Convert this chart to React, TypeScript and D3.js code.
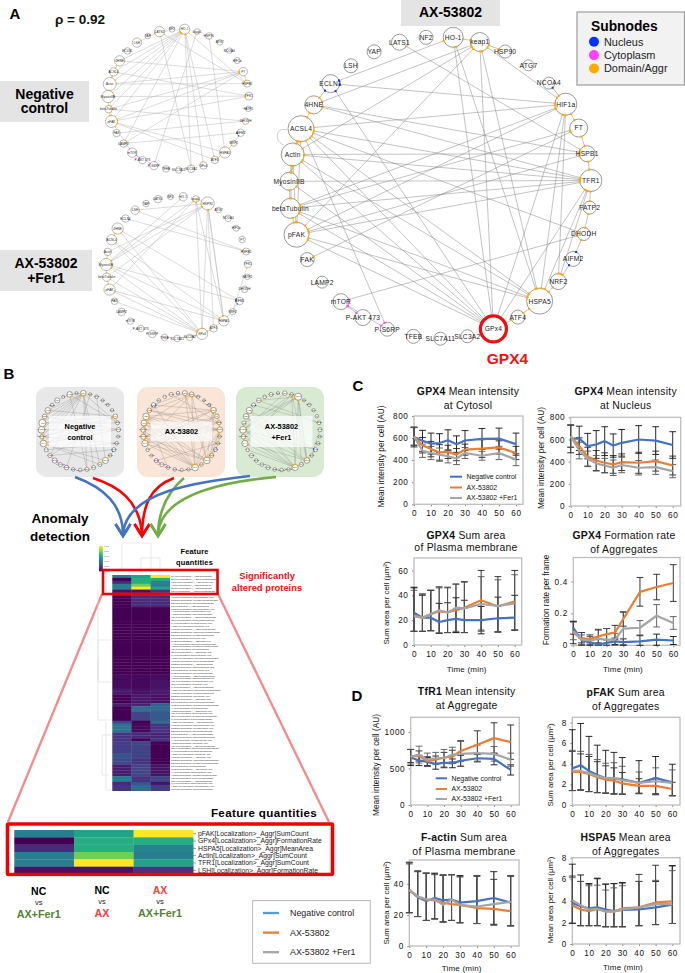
import * as d3 from "d3";
import React, { useEffect, useRef } from "react";

const FONT = '"Liberation Sans", Arial, sans-serif';
const W = 685;
const H = 973;

const BLUE = "#4472c4";
const ORANGE = "#ed7d31";
const GRAY = "#a5a5a5";
const SUB_BLUE = "#0433ff";
const SUB_PINK = "#ff40ff";
const SUB_ORANGE = "#ffaa00";

// ---- network rings, clockwise from the top
const ringNames = [
  "HO-1", "keap1", "HSP90", "ATG7", "NCOA4", "HIF1a", "FT", "HSPB1", "TFR1", "FATP2", "DHODH", "AIFM2",
  "NRF2", "HSPA5", "ATF4", "GPx4", "SLC3A2", "SLC7A11", "TFEB", "P-S6RP", "P-AKT 473", "mTOR", "LAMP2",
  "FAK", "pFAK", "betaTubulin", "MyosinIIB", "Actin", "ACSL4", "4HNE", "ECLN1", "LSH", "YAP", "LATS1", "NF2",
];
const axSizes = [10, 9.5, 6.5, 5.5, 6, 11, 9, 8, 11, 6.5, 6.5, 7.5, 8, 13, 7, 13, 6.5, 6.5, 7, 7, 8, 8, 6, 7, 12.5, 10, 9, 11.5, 13, 9, 9, 7, 7, 8, 7];
const ncSizes = [11, 6, 7, 6, 6, 6.5, 9, 7.5, 8.5, 6, 7, 8, 6.5, 12, 8, 8, 8, 7, 7, 9, 8, 10, 8, 8, 13, 8, 13, 14, 9, 11, 7, 10, 6, 11, 6];
const ferSizes = [9, 7, 14, 6, 7, 6.5, 7, 7.5, 8, 6, 7, 8, 6.5, 11, 8, 12, 7, 7, 7, 8, 7, 7, 8, 7, 12, 9, 13, 8, 11, 12, 8, 9, 7, 8, 6];

const axEdges: [string, string][] = [
  ["GPx4", "ACSL4"], ["GPx4", "Actin"], ["GPx4", "MyosinIIB"], ["GPx4", "betaTubulin"], ["GPx4", "pFAK"],
  ["GPx4", "ECLN1"], ["GPx4", "HO-1"], ["GPx4", "keap1"], ["GPx4", "HIF1a"], ["GPx4", "TFR1"], ["GPx4", "ATF4"],
  ["HSPA5", "ACSL4"], ["HSPA5", "Actin"], ["HSPA5", "betaTubulin"], ["HSPA5", "pFAK"], ["HSPA5", "HO-1"],
  ["HSPA5", "keap1"], ["HSPA5", "HIF1a"], ["HSPA5", "TFR1"], ["HSPA5", "ATF4"], ["HSPA5", "NRF2"],
  ["NRF2", "HIF1a"], ["NRF2", "TFR1"], ["NRF2", "AIFM2"], ["AIFM2", "DHODH"], ["DHODH", "FATP2"],
  ["FATP2", "TFR1"], ["TFR1", "ACSL4"], ["TFR1", "Actin"], ["TFR1", "betaTubulin"], ["TFR1", "pFAK"],
  ["TFR1", "4HNE"], ["TFR1", "MyosinIIB"], ["TFR1", "HSPB1"], ["HIF1a", "ACSL4"], ["HIF1a", "ECLN1"],
  ["HIF1a", "keap1"], ["HIF1a", "pFAK"], ["HIF1a", "betaTubulin"], ["HIF1a", "FT"], ["HIF1a", "NCOA4"],
  ["FT", "betaTubulin"], ["FT", "FAK"], ["FT", "HSPB1"], ["HSPB1", "4HNE"], ["HSPB1", "LATS1"], ["HSPB1", "Actin"],
  ["HSPB1", "pFAK"], ["DHODH", "mTOR"], ["DHODH", "ACSL4"], ["keap1", "4HNE"], ["keap1", "pFAK"], ["keap1", "Actin"],
  ["keap1", "HSP90"], ["HO-1", "ECLN1"], ["HO-1", "keap1"], ["P-S6RP", "ACSL4"], ["ACSL4", "Actin"], ["Actin", "MyosinIIB"],
  ["Actin", "betaTubulin"], ["Actin", "pFAK"], ["MyosinIIB", "betaTubulin"], ["betaTubulin", "pFAK"], ["ACSL4", "4HNE"],
  ["4HNE", "ECLN1"], ["mTOR", "P-AKT 473"], ["mTOR", "P-S6RP"], ["ACSL4", "pFAK"], ["ACSL4", "MyosinIIB"],
];
const ncEdges: [string, string][] = [
  ["HO-1", "Actin"], ["HO-1", "MyosinIIB"], ["HO-1", "betaTubulin"], ["HO-1", "pFAK"], ["HO-1", "ACSL4"], ["HO-1", "4HNE"],
  ["HO-1", "HSPB1"], ["HO-1", "SLC3A2"], ["HO-1", "GPx4"], ["LATS1", "SLC3A2"], ["LATS1", "HSPB1"], ["LATS1", "HO-1"], ["HO-1", "ATF4"],
  ["LSH", "LATS1"], ["pFAK", "HSPA5"], ["pFAK", "ATF4"], ["FT", "Actin"], ["FT", "betaTubulin"], ["FT", "pFAK"], ["FT", "LAMP2"],
  ["Actin", "HSPB1"], ["4HNE", "FT"], ["ACSL4", "TFR1"], ["MyosinIIB", "TFR1"], ["pFAK", "TFR1"], ["betaTubulin", "DHODH"],
  ["FAK", "DHODH"], ["LAMP2", "AIFM2"], ["LAMP2", "HO-1"], ["keap1", "P-S6RP"], ["HSP90", "HSPA5"], ["ACSL4", "4HNE"],
  ["ACSL4", "Actin"], ["Actin", "MyosinIIB"], ["MyosinIIB", "betaTubulin"], ["betaTubulin", "pFAK"], ["mTOR", "P-AKT 473"],
  ["mTOR", "P-S6RP"], ["HSPA5", "ATF4"], ["HSPA5", "NRF2"], ["NRF2", "AIFM2"], ["Actin", "pFAK"], ["FT", "HSPB1"], ["pFAK", "mTOR"],
];
const ferEdges: [string, string][] = [
  ["HSP90", "Actin"], ["HSP90", "MyosinIIB"], ["HSP90", "betaTubulin"], ["HSP90", "GPx4"], ["HSP90", "HSPA5"], ["HSP90", "ATF4"],
  ["keap1", "MyosinIIB"], ["keap1", "GPx4"], ["keap1", "HSPA5"], ["keap1", "pFAK"], ["keap1", "HSP90"], ["ECLN1", "HSPB1"],
  ["LSH", "HSPB1"], ["LSH", "HSP90"], ["HO-1", "MyosinIIB"], ["4HNE", "GPx4"], ["ACSL4", "GPx4"], ["MyosinIIB", "GPx4"],
  ["MyosinIIB", "HSPA5"], ["MyosinIIB", "AIFM2"], ["betaTubulin", "GPx4"], ["pFAK", "GPx4"], ["pFAK", "HSPA5"], ["FAK", "GPx4"],
  ["ACSL4", "HSPA5"], ["4HNE", "AIFM2"], ["TFR1", "NRF2"], ["HSPA5", "AIFM2"], ["HSPA5", "GPx4"], ["ATF4", "GPx4"], ["ACSL4", "4HNE"],
  ["MyosinIIB", "Actin"], ["MyosinIIB", "betaTubulin"], ["betaTubulin", "pFAK"], ["SLC3A2", "GPx4"], ["TFEB", "SLC3A2"], ["HSPA5", "HSP90"],
];
// which subnode colour the edge ends take at a node (orange otherwise)
const nodeSubColor: Record<string, string> = {
  ECLN1: SUB_BLUE, NCOA4: SUB_BLUE, AIFM2: SUB_BLUE, mTOR: SUB_PINK, "P-AKT 473": SUB_PINK, "P-S6RP": SUB_PINK, TFEB: SUB_PINK,
};

// ---- heat map columns (0..1 on viridis), top row first
const heatNcFer = [
  .42, 0, .12, .42, .42, .05, .02, 0, 0, 0, 0, 0, 0, 0, 0, 0, 0, 0, 0, 0, 0, 0, 0, 0, 0, 0, 0, 0, 0, 0, 0, 0, 0, 0, .03, .03,
  .03, .03, .03, .07, .07, 0, 0, 0, .08, 0, 0, 0, 0, 0, .2, .38, .38, .38, .15, .15, .15, .18, .18, .18, .18, .25, .25, .22, .22,
  .08, .08, .08, .08, .4, .4, .12, .15, .15,
];
const heatNcAx = [
  .58, .62, .62, .78, 1, .05, .03, .12, .12, .12, .12, 0, 0, 0, 0, 0, 0, 0, 0, 0, 0, 0, 0, 0, 0, 0, 0, 0, 0, 0, 0, 0, 0, 0, .02, .02,
  .02, .02, .02, .04, .04, .06, .06, .06, .1, .35, .35, .2, .2, .2, 0, .02, .02, .02, .12, .12, 0, .2, .2, .2, .2, .2, .2, .15, .15,
  .2, .2, .2, .2, .15, .15, .25, .35, .35,
];
const heatAxFer = [
  1, .62, .45, .42, .58, .15, .12, .12, .12, .12, .12, 0, 0, 0, 0, 0, 0, 0, 0, 0, 0, 0, 0, 0, 0, 0, 0, 0, 0, 0, 0, 0, 0, 0, .03, .03,
  .05, .05, .05, .07, .07, .04, .04, .04, .3, .33, .33, .28, .28, .28, .35, .15, .15, .15, .1, .1, .15, 0, 0, 0, 0, 0, 0, 0, 0,
  .05, .05, .05, .05, .2, .2, .05, .18, .18,
];
const zoomLabels = [
  "pFAK[Localization>_Aggr]SumCount", "GPx4[Localization>_Aggr]FormationRate", "HSPA5[Localization>_Aggr]MeanArea",
  "Actin[Localization>_Aggr]SumCount", "TFR1[Localization>_Aggr]SumCount", "LSH[Localization>_Aggr]FormationRate",
];
const labelProteins = ["ACSL4", "HIF1a", "mTOR", "NRF2", "FT", "keap1", "YAP", "ATG7", "HO-1", "GPx4", "FAK"];
const labelPlaces = ["_Aggr", "Nucleus", "Cytosol", "PM"];
const labelMetrics = ["MeanArea", "SumArea", "MeanIntensity", "FormationRate", "SumCount"];

// ---- time courses
const timePoints = [0, 5, 10, 15, 20, 25, 30, 40, 50, 60];
const seriesNames = ["Negative control", "AX-53802", "AX-53802 +Fer1"];

const c1Neg = [610, 575, 550, 555, 580, 545, 578, 592, 595, 545];
const c1Ax = [615, 535, 500, 470, 475, 450, 495, 505, 515, 465];
const c1Fer = [615, 485, 465, 450, 435, 415, 465, 440, 465, 405];
const c1NegErr = [90, 95, 95, 85, 95, 75, 90, 95, 95, 100];
const c1AxErr = [80, 70, 70, 70, 60, 55, 50, 80, 60, 60];
const c1FerErr = [80, 60, 60, 60, 60, 55, 50, 40, 60, 55];

const c2Neg = [605, 610, 540, 555, 585, 545, 570, 600, 590, 550];
const c2Ax = [630, 540, 445, 410, 390, 375, 395, 390, 405, 365];
const c2Fer = [630, 500, 425, 385, 365, 345, 370, 345, 350, 315];
const c2NegErr = [125, 110, 115, 125, 130, 105, 120, 125, 125, 120];
const c2AxErr = [100, 75, 85, 90, 90, 80, 75, 95, 90, 85];
const c2FerErr = [100, 75, 70, 70, 65, 70, 70, 65, 65, 60];

const c3Neg = [26, 22, 22, 18.5, 20, 21, 20, 20, 21.5, 22];
const c3Ax = [23.5, 22, 25, 27, 26.5, 28, 30, 36, 31, 35];
const c3Fer = [23, 22, 25, 28, 26, 30, 29.5, 33, 31.5, 33.5];
const c3NegErr = [20, 18, 22, 15, 14, 17, 16, 11, 17, 18];
const c3AxErr = [23, 19, 19, 19, 20, 21, 21, 24, 24, 25];
const c3FerErr = [21, 19, 19, 19, 20, 19, 21, 22, 21, 23];
const c3Floor = [11, 11, 11.5, 9.5, 10, 10, 10, 9, 10.5, 12];

const c4Neg = [.11, .03, .02, .005, .015, .025, .02, .025, .035, .03];
const c4Ax = [.08, .04, .04, .055, .07, .08, .165, .335, .365, .39];
const c4Fer = [.09, .035, .03, .04, .035, .035, .105, .11, .185, .14];
const c4NegErr = [.04, .015, .02, .01, .02, .02, .02, .035, .035, .025];
const c4AxErr = [.07, .04, .025, .045, .035, .045, .045, .09, .08, .115];
const c4FerErr = [.055, .03, .025, .055, .07, .04, .1, .045, .07, .04];

const d1Neg = [650, 610, 590, 560, 580, 570, 605, 640, 630, 480];
const d1Ax = [670, 670, 600, 620, 650, 660, 740, 825, 915, 860];
const d1Fer = [660, 690, 620, 640, 640, 690, 700, 710, 700, 620];
const d1NegErr = [110, 70, 60, 70, 70, 60, 75, 50, 80, 70];
const d1AxErr = [90, 70, 60, 50, 70, 90, 140, 190, 210, 235];
const d1FerErr = [100, 115, 90, 80, 120, 100, 170, 110, 100, 90];

const d2Neg = [3.55, 3.85, 3.3, 2.9, 2.6, 2.55, 2.5, 2.15, 2.6, 2.2];
const d2Ax = [3.2, 3.2, 3, 2.7, 2.45, 2.35, 2.1, 1.85, 1.85, 1.55];
const d2Fer = [3.3, 3.3, 3.1, 2.8, 2.6, 2.6, 2.4, 2.15, 2.3, 2.15];
const d2NegErr = [3.75, 4.05, 3.35, 2.9, 2.7, 2.55, 2.1, 2.15, 2.1, 1.75];
const d2AxErr = [2, 1.75, 1.7, 1.5, 1.35, 1.25, 1.05, .7, .75, .65];
const d2FerErr = [2, 1.9, 1.8, 1.6, 1.45, 1.5, 1.35, 1.05, 1.3, 1.25];
const d2Floor = [1.4, 1.45, 1.3, 1.2, 1.15, 1.05, 1.05, 1.1, 1, .9];

const d3Neg = [36, 31.5, 29, 31, 29.5, 30, 28, 29, 31, 28];
const d3Ax = [36, 32, 30, 29.5, 28, 27, 26.5, 24.5, 24, 22.5];
const d3Fer = [36, 32, 30, 30, 26.5, 30, 26.5, 25.5, 27, 28.5];
const d3NegErr = [18, 17, 18, 16, 16, 16, 17, 16, 17, 17];
const d3AxErr = [17, 16, 17, 17, 18, 19, 19, 21, 19, 23];
const d3FerErr = [18, 16, 17, 16, 19, 16, 18, 20, 21, 17];
const d3Floor = [21.5, 19, 16.5, 17.5, 15.5, 16.5, 15, 14.5, 13.5, 13];

const d4Neg = [3.8, 3.5, 3.3, 3.4, 3.2, 3.05, 3.15, 3.2, 3.4, 3.65];
const d4Ax = [3.6, 3.2, 3.05, 3.25, 3.05, 3, 3.3, 3.4, 3.85, 3.95];
const d4Fer = [4.05, 3.6, 3.2, 3.25, 3, 3, 3.2, 3.4, 3.7, 3.7];
const d4NegErr = [3.6, 2.9, 2.3, 2.7, 2.35, 2.55, 2.5, 2.6, 2.4, 3.6];
const d4AxErr = [2.7, 2.6, 2.5, 2.8, 2.5, 2.6, 2.4, 3.05, 3.45, 3.3];
const d4FerErr = [2.1, 2.2, 2.2, 2.2, 2, 2.2, 2.2, 2.4, 2.2, 3.1];
const d4Floor = [1.9, 1.7, 1.7, 1.7, 1.6, 1.6, 1.6, 1.7, 1.8, 1.9];

type Sel = d3.Selection<any, any, any, any>;

function label(g: Sel, x: number, y: number, s: string, size: number, o: any = {}) {
  return g.append("text").attr("x", x).attr("y", y).attr("font-family", FONT)
    .attr("font-size", size).attr("font-weight", o.bold ? "bold" : "normal")
    .attr("fill", o.fill || "#000").attr("text-anchor", o.anchor || "middle")
    .attr("letter-spacing", o.spacing || 0).text(s);
}

function drawNetwork(g: Sel, cx: number, cy: number, r: number, sizes: number[], edges: [string, string][], o: any) {
  const angle = d3.scalePoint<string>().domain(ringNames).range([5, 5 + (360 * 34) / 35]);
  const k = r / 151;
  const pos = (name: string) => {
    const a = ((angle(name) as number) * Math.PI) / 180;
    return { x: cx + r * Math.sin(a), y: cy - r * Math.cos(a), r: sizes[ringNames.indexOf(name)] * k };
  };
  const ends: { x: number; y: number; c: string }[] = [];
  const lines = g.append("g").attr("stroke", o.edge).attr("stroke-width", o.edgeWidth).attr("fill", "none");
  edges.forEach(([a, b]) => {
    const p = pos(a);
    const q = pos(b);
    const len = Math.hypot(q.x - p.x, q.y - p.y);
    const ux = (q.x - p.x) / len;
    const uy = (q.y - p.y) / len;
    const x1 = p.x + ux * p.r;
    const y1 = p.y + uy * p.r;
    const x2 = q.x - ux * q.r;
    const y2 = q.y - uy * q.r;
    lines.append("line").attr("x1", x1).attr("y1", y1).attr("x2", x2).attr("y2", y2);
    ends.push({ x: x1, y: y1, c: nodeSubColor[a] || SUB_ORANGE });
    ends.push({ x: x2, y: y2, c: nodeSubColor[b] || SUB_ORANGE });
  });
  const nodes = g.append("g").selectAll("g").data(ringNames).join("g");
  nodes.append("circle")
    .attr("cx", (d) => pos(d).x).attr("cy", (d) => pos(d).y).attr("r", (d) => pos(d).r)
    .attr("fill", "#fff").attr("stroke", o.node).attr("stroke-width", o.nodeWidth);
  g.append("g").selectAll("rect").data(ends).join("rect")
    .attr("x", (d) => d.x - o.sub / 2).attr("y", (d) => d.y - o.sub / 2)
    .attr("width", o.sub).attr("height", o.sub).attr("fill", (d) => d.c);
  g.append("g").selectAll("text").data(ringNames).join("text")
    .attr("x", (d) => pos(d).x).attr("y", (d) => pos(d).y + o.font * 0.36)
    .attr("text-anchor", "middle").attr("font-family", FONT).attr("font-size", o.font)
    .attr("letter-spacing", o.font * 0.03).attr("fill", "#222").text((d) => d);
  if (o.highlight) {
    const p = pos(o.highlight);
    g.append("circle").attr("cx", p.x).attr("cy", p.y).attr("r", p.r)
      .attr("fill", "none").attr("stroke", "#f00f0f").attr("stroke-width", 3.2);
  }
  return pos;
}

function drawPanel(g: Sel, p: any) {
  const x = d3.scaleLinear().domain([0, 60]).range([p.x0, p.x60]);
  const y = d3.scaleLinear().domain([0, p.top]).range([p.y0, p.yTop]);
  const colors = [BLUE, ORANGE, GRAY];
  const errColors = ["#111", "#222", "#555"];

  const yAxis = d3.axisLeft(y).tickValues(p.yTicks).tickSize(2).tickPadding(3.5)
    .tickFormat((d: any) => (d === 0 ? "0" : p.yFormat ? d3.format(p.yFormat)(d) : String(d)));
  const xAxis = d3.axisBottom(x).tickValues([0, 10, 20, 30, 40, 50, 60]).tickSize(2).tickPadding(4).tickFormat((d: any) => String(d));
  [g.append("g").attr("transform", `translate(${p.x0},0)`).call(yAxis as any),
    g.append("g").attr("transform", `translate(0,${p.y0})`).call(xAxis as any)].forEach((a) => {
    a.select(".domain").remove();
    a.selectAll("line").attr("stroke", "#888");
    a.selectAll("text").attr("font-family", FONT).attr("font-size", 8.2).attr("letter-spacing", 0.6).attr("fill", "#111");
  });

  g.append("rect").attr("x", p.x0).attr("y", p.yTop).attr("width", p.right - p.x0).attr("height", p.y0 - p.yTop)
    .attr("fill", "none").attr("stroke", "#bdbdbd").attr("stroke-width", 1.3);

  p.series.forEach((s: number[], si: number) => {
    const e = g.append("g").attr("stroke", errColors[si]).attr("stroke-width", 0.9);
    timePoints.forEach((t, i) => {
      const hi = s[i] + p.errs[si][i];
      const lo = p.floor ? Math.max(s[i] - p.errs[si][i], p.floor[i]) : s[i] - p.errs[si][i];
      e.append("line").attr("x1", x(t)).attr("x2", x(t)).attr("y1", y(hi)).attr("y2", y(Math.max(lo, 0)));
      [hi, Math.max(lo, 0)].forEach((v) => {
        e.append("line").attr("x1", x(t) - 3.4).attr("x2", x(t) + 3.4).attr("y1", y(v)).attr("y2", y(v));
      });
    });
  });
  const line = d3.line<number>().x((_, i) => x(timePoints[i])).y((d) => y(d));
  p.series.forEach((s: number[], si: number) => {
    g.append("path").attr("d", line(s)).attr("fill", "none").attr("stroke", colors[si]).attr("stroke-width", 2.2)
      .attr("stroke-linejoin", "round");
  });

  const t = g.append("text").attr("x", p.titleX).attr("y", p.titleY[0]).attr("text-anchor", "middle")
    .attr("font-family", FONT).attr("font-size", 10.4).attr("letter-spacing", 0.25).attr("fill", "#111");
  t.append("tspan").attr("font-weight", "bold").text(p.title[0]);
  t.append("tspan").text(" " + p.title[1]);
  label(g, p.titleX, p.titleY[1], p.title[2], 10.4, { fill: "#111", spacing: 0.25 });

  g.append("text").attr("transform", `translate(${p.yLabelX},${p.yLabelY}) rotate(-90)`).attr("text-anchor", "middle")
    .attr("font-family", FONT).attr("font-size", p.yLabelSize).attr("fill", "#111").text(p.yLabel);
  if (p.timeY) label(g, p.timeX, p.timeY, "Time (min)", 8, { fill: "#111", spacing: 0.2 });

  if (p.legend) {
    seriesNames.forEach((n, i) => {
      const ly = p.legend.y[i];
      g.append("line").attr("x1", p.legend.x1).attr("x2", p.legend.x2).attr("y1", ly).attr("y2", ly)
        .attr("stroke", colors[i]).attr("stroke-width", 2);
      label(g, p.legend.x2 + 4.5, ly + 2.3, n, 6.9, { anchor: "start", fill: "#111" });
    });
  }
}

const App: React.FC = () => {
  const svgRef = useRef<SVGSVGElement>(null);

  useEffect(() => {
    if (!svgRef.current) return;
    const svg = d3.select(svgRef.current);
    svg.selectAll("*").remove();
    svg.append("rect").attr("width", W).attr("height", H).attr("fill", "#fff");

    // Panel A
    label(svg, 15, 19, "A", 15, { bold: true });
    label(svg, 80, 24, "ρ = 0.92", 13.5, { bold: true, fill: "#111" });
    const small = { edge: "#b0b0b0", edgeWidth: 0.45, node: "#777", nodeWidth: 0.5, sub: 1.1, font: 3.1 };
    drawNetwork(svg.append("g"), 178.5, 99.5, 70.5, ncSizes, ncEdges, small);
    drawNetwork(svg.append("g"), 177, 267.5, 71, ferSizes, ferEdges, small);
    drawNetwork(svg.append("g"), 440, 187.7, 151, axSizes, axEdges, {
      edge: "#868686", edgeWidth: 0.5, node: "#9a9a9a", nodeWidth: 1, sub: 2, font: 6.7, highlight: "GPx4",
    });
    // ACSL4 / Actin self loop
    svg.append("path").attr("d", "M287,130 C275,126 274,142 284,145").attr("fill", "none").attr("stroke", "#aaa").attr("stroke-width", 0.6);

    [[0, 81, 89, 41], [0, 250, 92, 41], [401, 0, 99, 26]].forEach(([x, y, w, h]) => {
      svg.append("rect").attr("x", x).attr("y", y).attr("width", w).attr("height", h).attr("fill", "#e4e4e4");
    });
    label(svg, 44.5, 98.5, "Negative", 14, { bold: true });
    label(svg, 44.5, 113, "control", 14, { bold: true });
    label(svg, 46, 267.5, "AX-53802", 14, { bold: true });
    label(svg, 46, 282.5, "+Fer1", 14, { bold: true });
    label(svg, 450.5, 17, "AX-53802", 14, { bold: true });
    label(svg, 507.5, 364, "GPX4", 15.5, { bold: true, fill: "#f00f0f" });

    svg.append("rect").attr("x", 577).attr("y", 12).attr("width", 107.5).attr("height", 73)
      .attr("fill", "#f2f2f2").attr("stroke", "#9c9c9c").attr("stroke-width", 1.2);
    label(svg, 591, 30.5, "Subnodes", 13.8, { bold: true, anchor: "start" });
    [["Nucleus", SUB_BLUE], ["Cytoplasm", SUB_PINK], ["Domain/Aggr", SUB_ORANGE]].forEach(([n, c], i) => {
      svg.append("circle").attr("cx", 594).attr("cy", 41.7 + i * 13.4).attr("r", 5).attr("fill", c);
      label(svg, 604, 45.5 + i * 13.4, n, 10.9, { anchor: "start", fill: "#222" });
    });

    // Panel B
    label(svg, 9, 379, "B", 15, { bold: true });
    const tiles: [number, string, number, number[], [string, string][], string[]][] = [
      [36, "#e8e8e8", 80, ncSizes, ncEdges, ["Negative", "control"]],
      [137, "#fbe5d6", 181.5, axSizes, axEdges, ["AX-53802"]],
      [236, "#d9ead3", 281.5, ferSizes, ferEdges, ["AX-53802", "+Fer1"]],
    ];
    tiles.forEach(([x, fill, cx, sizes, edges, names]) => {
      svg.append("rect").attr("x", x).attr("y", 387).attr("width", 88).attr("height", 90).attr("rx", 11).attr("fill", fill);
      drawNetwork(svg.append("g"), cx, 431.5, 38.5, sizes, edges, {
        edge: "#8f8f8f", edgeWidth: 0.35, node: "#333", nodeWidth: 0.45, sub: 0.9, font: 1.7,
      });
      const h = names.length > 1 ? 31 : 20;
      svg.append("rect").attr("x", cx - 31).attr("y", 431.5 - h / 2).attr("width", 62).attr("height", h)
        .attr("fill", "#fff").attr("opacity", 0.72);
      names.forEach((n, i) => {
        label(svg, cx, 431.5 + 2.7 + (i - (names.length - 1) / 2) * 11, n, 7.4, { bold: true });
      });
    });

    const arrows: [string, string, number][] = [
      ["M75,477 C105,488 122,505 123,533", BLUE, 123],
      ["M93,478 C118,486 139,500 142,533", "#ff0000", 142],
      ["M174,478 C150,487 143,505 142,533", "#ff0000", 142],
      ["M184,478 C170,490 159,508 158,533", "#70ad47", 158],
      ["M250,476 C200,482 128,490 123,533", BLUE, 123],
      ["M276,477 C220,482 162,495 158,533", "#70ad47", 158],
    ];
    arrows.forEach(([d, c, tip]) => {
      svg.append("path").attr("d", d).attr("fill", "none").attr("stroke", c).attr("stroke-width", 2.6);
      svg.append("path").attr("d", `M${tip - 7.5},524 L${tip},536 L${tip + 7.5},524`).attr("fill", "none")
        .attr("stroke", c).attr("stroke-width", 2.6);
    });
    label(svg, 60, 523, "Anomaly", 13.5, { bold: true });
    label(svg, 60, 541, "detection", 13.5, { bold: true });
    label(svg, 194.5, 554, "Feature", 7.4, { bold: true, spacing: 0.2 });
    label(svg, 194.5, 565, "quantities", 7.4, { bold: true, spacing: 0.2 });
    label(svg, 267, 578.5, "Significantly", 9.4, { bold: true, fill: "#f00f0f" });
    label(svg, 267, 590.5, "altered proteins", 9.4, { bold: true, fill: "#f00f0f" });

    // pink zoom guides
    [[102, 594, 8, 822], [218, 594, 329, 822]].forEach(([x1, y1, x2, y2]) => {
      svg.append("line").attr("x1", x1).attr("y1", y1).attr("x2", x2).attr("y2", y2)
        .attr("stroke", "#f58a8a").attr("stroke-width", 2.3);
    });

    // heat map
    const colX = d3.scaleBand<number>().domain([0, 1, 2]).range([112.3, 169.7]);
    const rowY = d3.scaleBand<number>().domain(d3.range(heatNcFer.length)).range([575, 790.7]);
    const restLabels = d3.range(heatNcFer.length - 6).map((i) =>
      `${labelProteins[i % labelProteins.length]}[Localization>${labelPlaces[i % labelPlaces.length]}]${labelMetrics[i % labelMetrics.length]}`);
    const allLabels = zoomLabels.concat(restLabels);

    // dendrograms, very light
    const dendro = svg.append("g").attr("fill", "none").attr("stroke", "#dedede").attr("stroke-width", 0.7);
    ["M122,572 V543 H151 V572", "M141,572 V558 H160 V572", "M108,577 H104 V591 H111", "M111,640 H98 V682 H111",
      "M98,660 H98 V720 H111", "M111,735 H102 V775 H109", "M106,722 V790 H112", "M98,590 V680"].forEach((d) => {
      dendro.append("path").attr("d", d);
    });
    [heatNcFer, heatNcAx, heatAxFer].forEach((col, ci) => {
      svg.append("g").selectAll("rect").data(col).join("rect")
        .attr("x", colX(ci) as number).attr("width", colX.bandwidth() + 0.3)
        .attr("y", (_, i) => rowY(i) as number).attr("height", rowY.bandwidth() + 0.3)
        .attr("fill", (d) => d3.interpolateViridis(d));
    });
    svg.append("g").selectAll("text").data(allLabels).join("text")
      .attr("x", 171).attr("y", (_, i) => (rowY(i) as number) + rowY.bandwidth() * 0.85)
      .attr("font-family", FONT).attr("font-size", 2.5).attr("fill", "#222").text((d) => d);

    // colour bar
    const barY = d3.scaleLinear().domain([0, 1]).range([571, 546]);
    svg.append("g").selectAll("rect").data(d3.range(0, 1, 0.04)).join("rect")
      .attr("x", 99).attr("width", 3.8).attr("y", (d) => barY(d + 0.04)).attr("height", 1.3)
      .attr("fill", (d) => d3.interpolateViridis(d + 0.02));
    svg.append("g").selectAll("text").data(["0.000", "0.200", "0.400", "0.600", "0.800", "1.000"]).join("text")
      .attr("x", 104).attr("y", (d) => barY(+d) + 0.8).attr("font-family", FONT).attr("font-size", 2).attr("fill", "#555").text((d) => d);

    svg.append("rect").attr("x", 103).attr("y", 570).attr("width", 114.5).attr("height", 24)
      .attr("fill", "none").attr("stroke", "#f00000").attr("stroke-width", 2.6);

    // enlarged part of the heat map
    label(svg, 264, 817, "Feature quantities", 11.6, { bold: true, spacing: 0.35 });
    svg.append("rect").attr("x", 7.5).attr("y", 824).attr("width", 325).attr("height", 50.5).attr("fill", "#fff");
    const zoomX = d3.scaleBand<number>().domain([0, 1, 2]).range([14.3, 193.3]);
    const zoomY = d3.scaleBand<number>().domain(d3.range(6)).range([830, 874]);
    [heatNcFer, heatNcAx, heatAxFer].forEach((col, ci) => {
      svg.append("g").selectAll("rect").data(col.slice(0, 6)).join("rect")
        .attr("x", zoomX(ci) as number).attr("width", zoomX.bandwidth() + 0.2)
        .attr("y", (_, i) => zoomY(i) as number).attr("height", zoomY.bandwidth() + 0.2)
        .attr("fill", (d) => d3.interpolateViridis(d));
    });
    const zoomText = svg.append("g");
    zoomLabels.forEach((n, i) => {
      const ty = (zoomY(i) as number) + zoomY.bandwidth() / 2;
      zoomText.append("line").attr("x1", 193.3).attr("x2", 196).attr("y1", ty).attr("y2", ty).attr("stroke", "#333").attr("stroke-width", 0.5);
      label(zoomText, 198, ty + 2.4, n, 6.8, { anchor: "start", fill: "#222" });
    });
    svg.append("rect").attr("x", 7.5).attr("y", 824).attr("width", 325).attr("height", 50.5).attr("rx", 1)
      .attr("fill", "none").attr("stroke", "#f00000").attr("stroke-width", 3.6);
    svg.append("rect").attr("x", 5).attr("y", 876.5).attr("width", 330).attr("height", 6).attr("fill", "#fff");

    const compared: [number, number, string, string, string, string][] = [
      [38.7, 0, "NC", "#000", "AX+Fer1", "#548235"],
      [102, -1, "NC", "#000", "AX", "#ff3b3b"],
      [160, -1, "AX", "#ff3b3b", "AX+Fer1", "#548235"],
    ];
    compared.forEach(([x, dy, a, ca, b, cb]) => {
      label(svg, x, 895 + dy, a, 10.5, { bold: true, fill: ca });
      label(svg, x, 905 + dy, "vs", 7.5, { fill: "#222" });
      label(svg, x, 918 + dy, b, 10.8, { bold: true, fill: cb });
    });

    // shared legend
    svg.append("rect").attr("x", 252.7).attr("y", 900.7).attr("width", 117.5).attr("height", 62.5)
      .attr("fill", "#fff").attr("stroke", "#9a9a9a").attr("stroke-width", 0.7);
    [["#5b9bd5", 0], [ORANGE, 1], [GRAY, 2]].forEach(([c, i]) => {
      const ly = 913 + (i as number) * 19.6;
      svg.append("line").attr("x1", 263).attr("x2", 279).attr("y1", ly).attr("y2", ly).attr("stroke", c as string).attr("stroke-width", 2.3);
      label(svg, 290, ly + 3, seriesNames[i as number], 8.9, { anchor: "start", fill: "#222" });
    });

    // Panels C and D
    label(svg, 358, 391, "C", 15, { bold: true });
    label(svg, 357, 701, "D", 15, { bold: true });
    const meanLabel = "Mean intensity per cell (AU)";
    const sumLabel = "Sum area per cell (µm²)";
    const panels = [
      { x0: 414, x60: 516, right: 523, y0: 504.3, yTop: 416, top: 800, yTicks: [0, 200, 400, 600, 800],
        series: [c1Neg, c1Ax, c1Fer], errs: [c1NegErr, c1AxErr, c1FerErr],
        title: ["GPX4", "Mean intensity", "at Cytosol"], titleX: 468, titleY: [395, 408.5],
        yLabel: meanLabel, yLabelX: 383.5, yLabelY: 456.5, yLabelSize: 8.3,
        legend: { x1: 450, x2: 462, y: [476.7, 487.5, 498] } },
      { x0: 570.7, x60: 672.7, right: 680.7, y0: 506, yTop: 417.3, top: 800, yTicks: [0, 200, 400, 600, 800],
        series: [c2Neg, c2Ax, c2Fer], errs: [c2NegErr, c2AxErr, c2FerErr],
        title: ["GPX4", "Mean intensity", "at Nucleus"], titleX: 625.7, titleY: [395, 408.5],
        yLabel: meanLabel, yLabelX: 543.5, yLabelY: 458, yLabelSize: 8.3 },
      { x0: 414, x60: 514.7, right: 521.7, y0: 645, yTop: 558, top: 70, yTicks: [0, 20, 40, 60],
        series: [c3Neg, c3Ax, c3Fer], errs: [c3NegErr, c3AxErr, c3FerErr], floor: c3Floor,
        title: ["GPX4", "Sum area", "of Plasma membrane"], titleX: 466, titleY: [538.5, 551],
        yLabel: sumLabel, yLabelX: 389, yLabelY: 603, yLabelSize: 7.9,
        timeX: 466.7, timeY: 672 },
      { x0: 573.3, x60: 673.3, right: 680, y0: 645.3, yTop: 557.5, top: 0.55, yTicks: [0, 0.2, 0.4], yFormat: ".1f",
        series: [c4Neg, c4Ax, c4Fer], errs: [c4NegErr, c4AxErr, c4FerErr],
        title: ["GPX4", "Formation rate", "of Aggregates"], titleX: 624, titleY: [539, 552.5],
        yLabel: "Formation rate  per frame", yLabelX: 548.5, yLabelY: 600, yLabelSize: 8.2,
        timeX: 623, timeY: 672 },
      { x0: 410.7, x60: 510.7, right: 519.3, y0: 805, yTop: 717.3, top: 1200, yTicks: [0, 500, 1000],
        series: [d1Neg, d1Ax, d1Fer], errs: [d1NegErr, d1AxErr, d1FerErr],
        title: ["TfR1", "Mean intensity", "at Aggregate"], titleX: 466.7, titleY: [695, 709],
        yLabel: meanLabel, yLabelX: 379, yLabelY: 765, yLabelSize: 8.3,
        legend: { x1: 435.7, x2: 447, y: [778.3, 789, 799] } },
      { x0: 572.3, x60: 672.3, right: 680, y0: 805, yTop: 717.3, top: 8.5, yTicks: [0, 2, 4, 6, 8],
        series: [d2Neg, d2Ax, d2Fer], errs: [d2NegErr, d2AxErr, d2FerErr], floor: d2Floor,
        title: ["pFAK", "Sum area", "of Aggregates"], titleX: 625.7, titleY: [696, 709.5],
        yLabel: sumLabel, yLabelX: 552.5, yLabelY: 765, yLabelSize: 7.9 },
      { x0: 409.3, x60: 510.7, right: 519, y0: 946, yTop: 860, top: 55.5, yTicks: [0, 20, 40],
        series: [d3Neg, d3Ax, d3Fer], errs: [d3NegErr, d3AxErr, d3FerErr], floor: d3Floor,
        title: ["F-actin", "Sum area", "of Plasma membrane"], titleX: 464, titleY: [841, 855],
        yLabel: sumLabel, yLabelX: 388.5, yLabelY: 903, yLabelSize: 7.9,
        timeX: 461.7, timeY: 971 },
      { x0: 572.3, x60: 672.3, right: 680, y0: 944, yTop: 857.7, top: 8, yTicks: [0, 2, 4, 6, 8],
        series: [d4Neg, d4Ax, d4Fer], errs: [d4NegErr, d4AxErr, d4FerErr], floor: d4Floor,
        title: ["HSPA5", "Mean area", "of Aggregates"], titleX: 625.7, titleY: [841, 854.5],
        yLabel: "Mean area per cell (µm²)", yLabelX: 552.5, yLabelY: 900, yLabelSize: 7.9,
        timeX: 623, timeY: 970 },
    ];
    panels.forEach((p) => drawPanel(svg.append("g"), p));
  }, []);

  return <svg ref={svgRef} width={W} height={H} style={{ position: "absolute", left: 0, top: 0 }} />;
};

export default App;
